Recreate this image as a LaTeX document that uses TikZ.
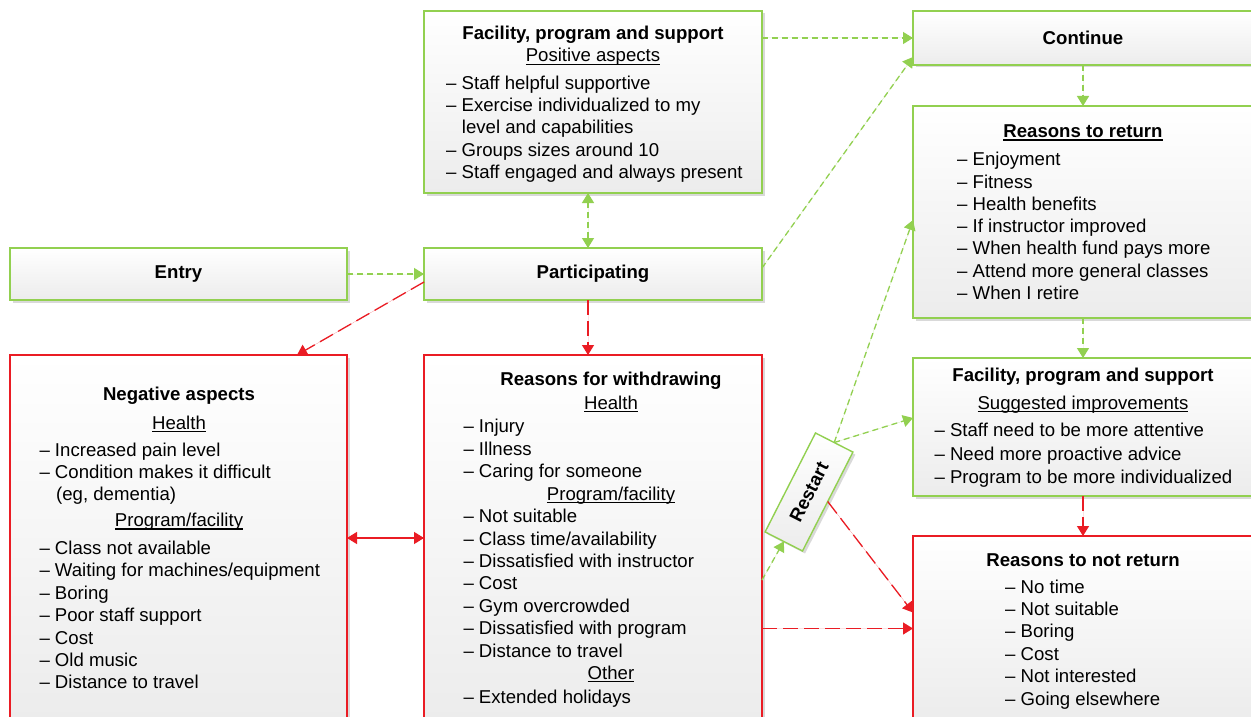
\documentclass[tikz,border=0pt]{standalone}
\usepackage{fontspec}
\setmainfont{Liberation Sans}
\usetikzlibrary{arrows.meta,shadows}
\definecolor{grn}{RGB}{146,208,80}
\definecolor{rd}{RGB}{234,28,36}
\definecolor{shd}{RGB}{236,236,236}
\newcommand\fs{\fontsize{18.6}{22.3}\selectfont}
\newcommand\uln[2][1.1pt]{\setbox0\hbox{#2}\rlap{\rule[-2.8pt]{\wd0}{#1}}\box0}
\begin{document}
\begin{tikzpicture}[x=1pt,y=-1pt,
  box/.style={draw, line width=1.4pt, shading=axis, top color=white, bottom color=shd,
    drop shadow={shadow xshift=2.5pt, shadow yshift=-2.5pt, opacity=0.15, fill=black},
    inner sep=0pt, outer sep=0pt, font=\fs\bfseries},
  gbox/.style={box, draw=grn},
  rbox/.style={box, draw=rd},
  it/.style={anchor=base west, inner sep=0pt, font=\fs},
  hd/.style={anchor=base, inner sep=0pt, font=\fs\bfseries},
  sb/.style={anchor=base, inner sep=0pt, font=\fs},
  garr/.style={draw=grn, line width=1.3pt, dash pattern=on 6pt off 4pt, -{Triangle[width=12pt,length=10pt]}, fill=grn},
  rarr/.style={draw=rd, line width=1.3pt, dash pattern=on 15pt off 6pt, -{Triangle[width=12pt,length=10pt]}, fill=rd}
]
\useasboundingbox (0,0) rectangle (1251,717);
\clip (0,0) rectangle (1251,717);
\fill[white] (0,0) rectangle (1251,717);

% boxes
\node[gbox, minimum width=338pt, minimum height=182pt] (top) at (593,102) {};
\node[gbox, minimum width=340pt, minimum height=54pt] (cont) at (1083,38) {Continue};
\node[gbox, minimum width=340pt, minimum height=212pt] (ret) at (1083,212) {};
\node[gbox, minimum width=340pt, minimum height=138pt] (imp) at (1083,427) {};
\node[rbox, minimum width=340pt, minimum height=185pt] (nret) at (1083,628.5) {};
\node[gbox, minimum width=337pt, minimum height=52pt] (entry) at (178.5,274) {Entry};
\node[gbox, minimum width=338pt, minimum height=52pt] (part) at (593,274) {Participating};
\node[rbox, minimum width=337pt, minimum height=366pt] (neg) at (178.5,538) {};
\node[rbox, minimum width=338pt, minimum height=366pt] (wd) at (593,538) {};
\node[gbox, rotate=63, minimum width=111pt, minimum height=42pt] (restart) at (809,492) {Restart};

% top box text
\node[hd] (t1) at (593,40) {Facility, program and support};
\node[sb] (t2) at (593,62) {\uln{Positive aspects}};
\node[it] (t3) at (446,89.3) {– Staff helpful supportive};
\node[it] (t4) at (446,111.6) {– Exercise individualized to my};
\node[it] (t5) at (461.7,133.9) {level and capabilities};
\node[it] (t6) at (446,156.2) {– Groups sizes around 10};
\node[it] (t7) at (446,178.5) {– Staff engaged and always present};

% reasons to return
\node[hd] (r0) at (1083,137.7) {\uln[1.6pt]{Reasons to return}};
\foreach \t [count=\i] in {{Enjoyment},{Fitness},{Health benefits},{If instructor improved},{When health fund pays more},{Attend more general classes},{When I retire}}
  \node[it] (r\i) at (957,{165.7+22.3*(\i-1)}) {– \t};

% improvements
\node[hd] (m0) at (1083,381.7) {Facility, program and support};
\node[sb] (m1) at (1083,409.3) {\uln{Suggested improvements}};
\foreach \t [count=\i] in {{Staff need to be more attentive},{Need more proactive advice},{Program to be more individualized}}
  \node[it] (mi\i) at (934.3,{436.7+23.3*(\i-1)}) {– \t};

% reasons to not return
\node[hd] (n0) at (1083,566) {Reasons to not return};
\foreach \t [count=\i] in {{No time},{Not suitable},{Boring},{Cost},{Not interested},{Going elsewhere}}
  \node[it] (n\i) at (1005,{593+22.4*(\i-1)}) {– \t};

% negative aspects
\node[hd] (g0) at (179,400.7) {Negative aspects};
\node[sb] (g1) at (179,429.3) {\uln{Health}};
\node[it] (g2) at (39.3,456) {– Increased pain level};
\node[it] (g3) at (39.3,478.4) {– Condition makes it difficult};
\node[it] (g4) at (56,500.8) {(eg, dementia)};
\node[sb] (g5) at (179,526.7) {\uln{Program/facility}};
\foreach \t [count=\i] in {{Class not available},{Waiting for machines/equipment},{Boring},{Poor staff support},{Cost},{Old music},{Distance to travel}}
  \node[it] (gi\i) at (39.3,{554.5+22.4*(\i-1)}) {– \t};

% reasons for withdrawing
\node[hd] (w0) at (611,385) {Reasons for withdrawing};
\node[sb] (w1) at (611,409.3) {\uln{Health}};
\foreach \t [count=\i] in {{Injury},{Illness},{Caring for someone}}
  \node[it] (wh\i) at (463.3,{432.7+22.4*(\i-1)}) {– \t};
\node[sb] (w2) at (611,500) {\uln{Program/facility}};
\foreach \t [count=\i] in {{Not suitable},{Class time/availability},{Dissatisfied with instructor},{Cost},{Gym overcrowded},{Dissatisfied with program},{Distance to travel}}
  \node[it] (wp\i) at (463.3,{522.7+22.4*(\i-1)}) {– \t};
\node[sb] (w3) at (611,679.5) {\uln{Other}};
\node[it] (w4) at (463.3,703) {– Extended holidays};

% connectors
\draw[garr] (entry) -- (part);
\draw[garr, {Triangle[width=12pt,length=10pt]}-{Triangle[width=12pt,length=10pt]}] ([xshift=-5pt]part.north) -- ([xshift=-5pt]top.south);
\draw[garr] (cont.west -| top.east) -- (cont.west);
\draw[garr] ([yshift=6pt]part.east) -- ([yshift=8pt]cont.south west);
\draw[garr] (cont) -- (ret);
\draw[garr] (ret) -- (imp);
\draw[rarr] (imp) -- (nret);
\draw[rarr] ([yshift=-8pt]part.west) -- ([xshift=287pt]neg.north west);
\draw[rarr] ([xshift=-5pt]part.south) -- ([xshift=-5pt]wd.north);
\draw[draw=rd, fill=rd, line width=1.3pt, {Triangle[width=12pt,length=10pt]}-{Triangle[width=12pt,length=10pt]}] (neg.east) -- (wd.west);
\draw[garr] ([yshift=-42pt]wd.east) -- (restart.west);
\draw[garr] (restart.east) -- ([yshift=-8pt]ret.west);
\draw[garr] (restart.east) -- ([yshift=9pt]imp.west);
\draw[rarr] (restart.south) -- ([yshift=16pt]nret.west);
\draw[rarr] (nret.west -| wd.east) -- (nret.west);
\end{tikzpicture}
\end{document}
